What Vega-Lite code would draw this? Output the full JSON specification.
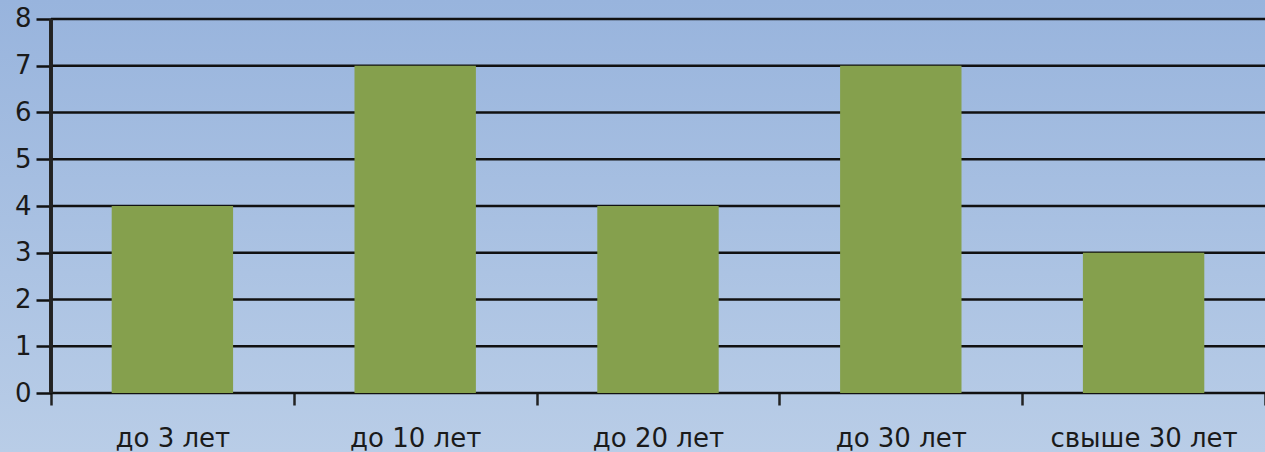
{
  "$schema": "https://vega.github.io/schema/vega-lite/v6.json",
  "autosize": {"type": "none"},
  "padding": 0,
  "width": 1265,
  "height": 452,
  "background": "#b8cde7",
  "config": {
    "view": {"stroke": null, "fill": {"gradient": "linear", "x1": 0, "y1": 0, "x2": 0, "y2": 1, "stops": [{"offset": 0, "color": "#98b4dd"}, {"offset": 1, "color": "#b9cde7"}]}},
    "axisX": {"title": null, "offset": -59, "labelAngle": 0, "labelFont": "DejaVu Sans", "labelFontSize": 26, "labelColor": "#1a1a1a", "labelLimit": 0, "labelAlign": "center", "labelBaseline": "top",
      "domain": false, "bandPosition": 0.5, "tickBand": "extent", "tickSize": 12, "tickWidth": 2.5, "tickColor": "#222", "labelPadding": 20, "grid": false},
    "axisY": {"title": null, "offset": -51, "labelFont": "DejaVu Sans", "labelFontSize": 26, "labelColor": "#1a1a1a", "labelOverlap": false,
      "domain": false, "tickSize": 15, "tickWidth": 2.5, "tickColor": "#111", "labelPadding": 5, "grid": false}
  },
  "datasets": {
    "bars": [
      {"cat": "до 3 лет", "value": 4},
      {"cat": "до 10 лет", "value": 7},
      {"cat": "до 20 лет", "value": 4},
      {"cat": "до 30 лет", "value": 7},
      {"cat": "свыше 30 лет", "value": 3}
    ],
    "grid": [
      {"level": 0}, {"level": 1}, {"level": 2}, {"level": 3}, {"level": 4},
      {"level": 5}, {"level": 6}, {"level": 7}, {"level": 8}
    ]
  },
  "layer": [
    {
      "data": {"name": "grid"},
      "mark": {"type": "rule", "color": "#111111", "strokeWidth": 2.5},
      "encoding": {
        "y": {"field": "level", "type": "quantitative", "scale": {"domain": [-1.262, 8.4064], "nice": false, "zero": false},
          "axis": {"values": [0,1,2,3,4,5,6,7,8]}},
        "x": {"datum": "до 3 лет", "type": "nominal", "bandPosition": 0, "axis": {"bandPosition": 0.5, "labelPadding": 20, "labelLimit": 0}},
        "x2": {"datum": "свыше 30 лет", "bandPosition": 1}
      }
    },
    {
      "data": {"name": "bars"},
      "mark": {"type": "bar", "color": "#85a04d", "width": {"band": 0.5}},
      "encoding": {
        "x": {"field": "cat", "type": "nominal", "sort": null,
          "scale": {"domain": ["до 3 лет", "до 10 лет", "до 20 лет", "до 30 лет", "свыше 30 лет"], "paddingInner": 0, "paddingOuter": 0.105, "align": 1},
          "axis": {"bandPosition": 0.5, "labelPadding": 20, "labelLimit": 0}},
        "y": {"field": "value", "type": "quantitative", "axis": {"values": [0,1,2,3,4,5,6,7,8]}},
        "y2": {"datum": 0}
      }
    },
    {
      "data": {"name": "bars"},
      "mark": {"type": "rule", "color": "#222222", "strokeWidth": 3},
      "encoding": {
        "x": {"datum": "до 3 лет", "type": "nominal", "bandPosition": 0, "axis": {"bandPosition": 0.5, "labelPadding": 20, "labelLimit": 0}},
        "y": {"datum": 8, "type": "quantitative", "axis": {"values": [0,1,2,3,4,5,6,7,8]}},
        "y2": {"datum": 0}
      }
    }
  ]
}
